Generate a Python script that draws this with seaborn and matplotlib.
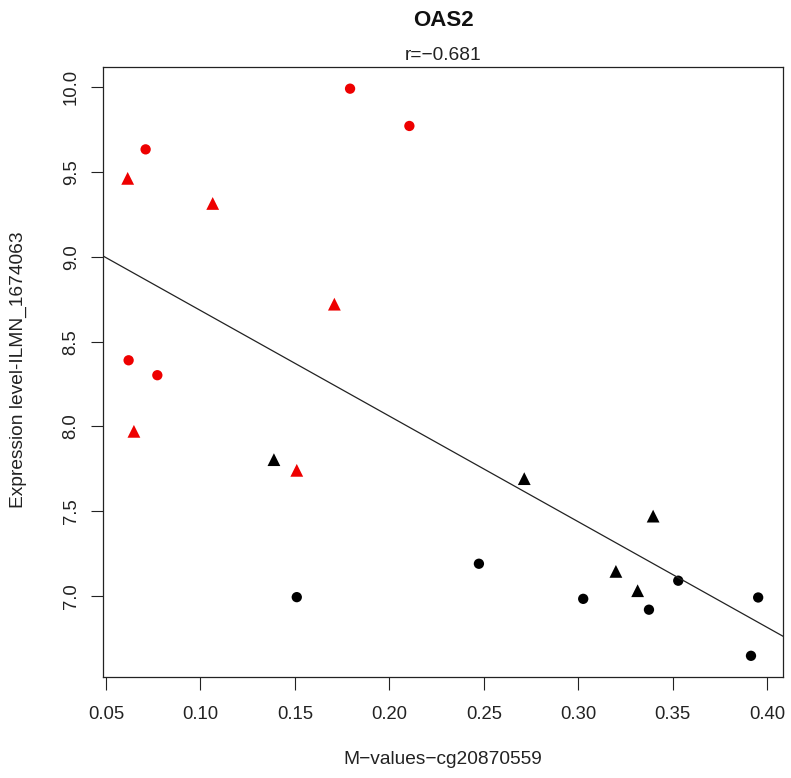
import numpy as np
import pandas as pd
import matplotlib
matplotlib.use("Agg")
import matplotlib.pyplot as plt
import seaborn as sns

# ---- data ----
red_circle_x = [0.1792, 0.2106, 0.0710, 0.0620, 0.0772]
red_circle_y = [9.992, 9.772, 9.634, 8.390, 8.302]
red_tri_x = [0.0615, 0.1065, 0.1709, 0.0648, 0.1510]
red_tri_y = [9.463, 9.315, 8.721, 7.971, 7.741]
black_tri_x = [0.1389, 0.2714, 0.3396, 0.3199, 0.3314]
black_tri_y = [7.804, 7.692, 7.471, 7.145, 7.031]
black_circle_x = [0.1510, 0.2474, 0.3529, 0.3026, 0.3952, 0.3374, 0.3914]
black_circle_y = [6.993, 7.190, 7.090, 6.983, 6.991, 6.919, 6.647]

x_ticks = [0.05, 0.10, 0.15, 0.20, 0.25, 0.30, 0.35, 0.40]
y_ticks = [7.0, 7.5, 8.0, 8.5, 9.0, 9.5, 10.0]

title = "OAS2"
subtitle = "r=\u22120.681"
xlabel = "M\u2212values\u2212cg20870559"
ylabel = "Expression level-ILMN_1674063"

frames = []
for xs, ys, col, shp in [
    (red_circle_x, red_circle_y, "red", "circle"),
    (red_tri_x, red_tri_y, "red", "triangle"),
    (black_tri_x, black_tri_y, "black", "triangle"),
    (black_circle_x, black_circle_y, "black", "circle"),
]:
    frames.append(pd.DataFrame({"x": xs, "y": ys, "col": col, "shape": shp}))
df = pd.concat(frames, ignore_index=True)

sns.set_style("ticks")
plt.rcParams["font.family"] = ["Liberation Sans", "DejaVu Sans"]

fig = plt.figure(figsize=(7.91, 7.78), dpi=100)
ax = fig.add_axes([103.3 / 791, 1 - 676.5 / 778, (783.3 - 103.3) / 791, (676.5 - 67.3) / 778])

ax.set_xlim(0.0486, 0.4085)
ax.set_ylim(6.525, 10.118)

sns.regplot(data=df, x="x", y="y", scatter=False, ci=None, truncate=False,
            line_kws=dict(color="#222222", lw=0.9), ax=ax)

sns.scatterplot(data=df, x="x", y="y", hue="col", style="shape", size="shape",
                palette={"red": "#ee0000", "black": "#000000"},
                markers={"circle": "o", "triangle": "^"},
                sizes={"circle": 55, "triangle": 85},
                edgecolor="none", legend=False, ax=ax)

ax.set_xlim(0.0486, 0.4085)
ax.set_ylim(6.525, 10.118)
ax.set_xticks(x_ticks)
ax.set_xticklabels([f"{v:.2f}" for v in x_ticks])
ax.set_yticks(y_ticks)
ax.set_yticklabels([f"{v:.1f}" for v in y_ticks], rotation=90, va="center")

ax.tick_params(axis="both", which="major", direction="out", length=9, width=0.8,
               color="#222222", labelsize=13.3, labelcolor="#222222",
               bottom=True, left=True, top=False, right=False)
ax.tick_params(axis="x", pad=12)
ax.tick_params(axis="y", pad=8)

for sp in ax.spines.values():
    sp.set_visible(True)
    sp.set_color("#222222")
    sp.set_linewidth(0.9)

ax.set_xlabel("")
ax.set_ylabel("")
fig.text(443 / 791, 1 - 760 / 778, xlabel, ha="center", va="center",
         fontsize=13.8, color="#222222")
fig.text(18 / 791, 1 - 370 / 778, ylabel, ha="center", va="center",
         rotation=90, fontsize=13.8, color="#222222")
fig.text(443 / 791, 1 - 21 / 778, title, ha="center", va="center",
         fontsize=16, fontweight="bold", color="#111111")
fig.text(443 / 791, 1 - 56 / 778, subtitle, ha="center", va="center",
         fontsize=13.8, color="#222222")

fig.savefig("out.png", dpi=100, facecolor="white")
